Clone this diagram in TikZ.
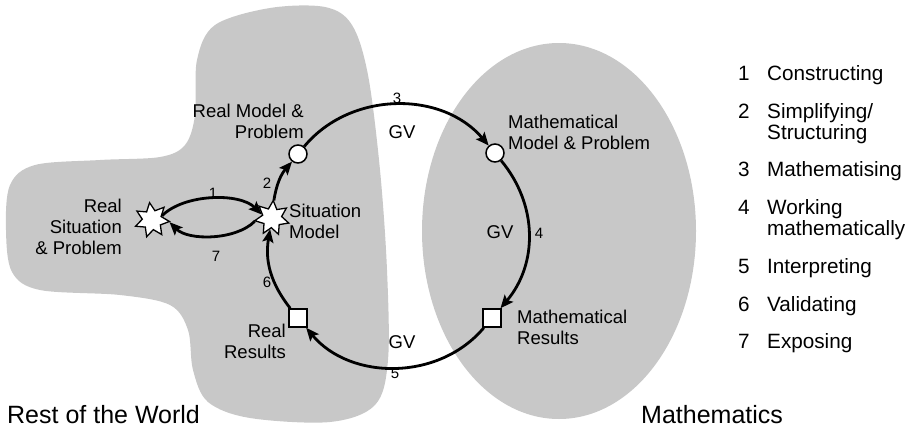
\documentclass[tikz,border=0pt]{standalone}
\usepackage{fontspec}
\setmainfont{Liberation Sans}
\usetikzlibrary{shapes.geometric,arrows.meta}
\definecolor{blobgray}{RGB}{200,200,200}
\begin{document}
\begin{tikzpicture}[x=1pt,y=1pt,
  lbl/.style={font=\fontsize{18.5}{21}\selectfont, inner sep=0pt},
  num/.style={font=\fontsize{15}{17}\selectfont, inner sep=0pt},
  leg/.style={font=\fontsize{20.7}{21}\selectfont, inner sep=0pt, anchor=base west},
  big/.style={font=\fontsize{25}{28}\selectfont, inner sep=0pt, anchor=base west},
  starnode/.style={star, star points=7, star point ratio=1.8, draw, fill=white, line width=1.3pt, minimum size=35pt, inner sep=0pt},
  circnode/.style={circle, draw, fill=white, line width=1.5pt, minimum size=18pt, inner sep=0pt},
  sqnode/.style={rectangle, draw, fill=white, line width=1.5pt, minimum size=18pt, inner sep=0pt},
  arr/.style={line width=2.8pt, -{Stealth[length=13pt,width=11pt,inset=2.5pt]}},
]
\useasboundingbox (0,0) rectangle (912,-431);
% regions
\fill[blobgray] plot[smooth cycle, tension=0.55] coordinates {
 (197,-60) (215,-25) (270,-8) (325,-7) (352,-25) (368,-75) (380,-170)
 (387,-270) (388,-360) (375,-405) (330,-422) (250,-418) (208,-402)
 (193,-370) (188,-330) (170,-305) (120,-295) (40,-290) (12,-272)
 (6,-230) (10,-185) (35,-165) (100,-160) (160,-157) (185,-145) (195,-115)};
\fill[blobgray] (559,-231) ellipse [x radius=137, y radius=188];
% nodes
\node[starnode, rotate=8] (rs) at (152,-220) {};
\node[starnode, rotate=-4] (sm) at (272,-218) {};
\node[circnode] (rm) at (298,-154) {};
\node[circnode] (mm) at (495,-153) {};
\node[sqnode] (mr) at (492,-318) {};
\node[sqnode] (rr) at (298,-318) {};
% node labels
\node[lbl, align=right, anchor=east] (trs) at (122,-227) {Real\\Situation\\\& Problem};
\node[lbl, align=right, anchor=east] (trm) at (304,-121) {Real Model \&\\Problem};
\node[lbl, align=left, anchor=west] (tsm) at (289,-221) {Situation\\Model};
\node[lbl, align=right, anchor=east] (trr) at (286,-341) {Real\\Results};
\node[lbl, align=left, anchor=west] (tmm) at (508,-132) {Mathematical\\Model \& Problem};
\node[lbl, align=left, anchor=west] (tmr) at (517,-327) {Mathematical\\Results};
% connectors
\draw[arr] (rs.15) to[out=45,in=135,looseness=0.8] (sm.165);
\draw[arr] (sm.195) to[out=-135,in=-45,looseness=0.8] (rs.-15);
\draw[arr] (sm) to[bend left=16] (rm);
\draw[arr] (rm) to[bend left=50] (mm);
\draw[arr] (mm) to[bend left=40] (mr);
\draw[arr] (mr) to[bend left=50] (rr);
\draw[arr] (rr) to[bend left=24] (sm);
% connector labels
\node[num] (n1) at (213,-193) {1};
\node[num] (n7) at (216,-256) {7};
\node[num] (n2) at (267,-183) {2};
\node[num] (n6) at (267,-282) {6};
\node[num] (n3) at (397,-98) {3};
\node[lbl] (gv3) at (402,-132) {GV};
\node[lbl] (gv4) at (500,-232) {GV};
\node[num] (n4) at (539,-233) {4};
\node[lbl] (gv5) at (402,-342) {GV};
\node[num] (n5) at (395,-373) {5};
% region titles
\node[big] (row) at (7,-423) {Rest of the World};
\node[big] (mat) at (641,-423) {Mathematics};
% legend
\node[leg] (l1n) at (738,-80) {1};   \node[leg] (l1t) at (767,-80) {Constructing};
\node[leg] (l2n) at (738,-118) {2};  \node[leg] (l2t) at (767,-118) {Simplifying/};
\node[leg] (l2u) at (767,-139) {Structuring};
\node[leg] (l3n) at (738,-176.5) {3}; \node[leg] (l3t) at (767,-176.5) {Mathematising};
\node[leg] (l4n) at (738,-214) {4};  \node[leg] (l4t) at (767,-214) {Working};
\node[leg] (l4u) at (767,-235) {mathematically};
\node[leg] (l5n) at (738,-273) {5};  \node[leg] (l5t) at (767,-273) {Interpreting};
\node[leg] (l6n) at (738,-311) {6};  \node[leg] (l6t) at (767,-311) {Validating};
\node[leg] (l7n) at (738,-348) {7};  \node[leg] (l7t) at (767,-348) {Exposing};
\end{tikzpicture}
\end{document}
